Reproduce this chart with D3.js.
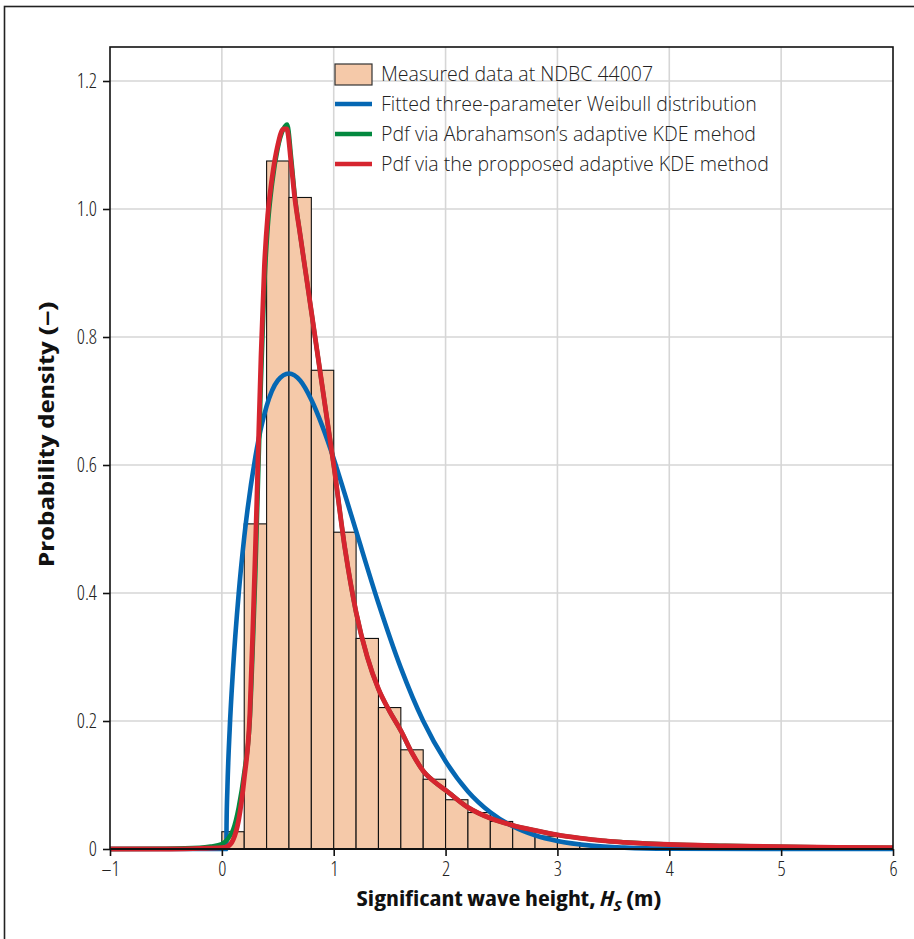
<!DOCTYPE html>
<html><head><meta charset="utf-8">
<script src="https://cdn.jsdelivr.net/npm/d3@7"></script>
<style>
html,body{margin:0;padding:0;background:#fff;}
svg text{font-family:"Open Sans","Noto Sans",sans-serif;}
.cond{font-stretch:condensed;}
.semi{font-stretch:semi-condensed;}
</style></head>
<body>
<svg id="chart" width="914" height="939"></svg>
<script>
// ---- data ----
const binLeft = [0,0.2,0.4,0.6,0.8,1.0,1.2,1.4,1.6,1.8,2.0,2.2,2.4,2.6,2.8,3.0,3.2,3.4,3.6,3.8];
const binWidth = 0.2;
const binDensity = [0.027,0.508,1.075,1.018,0.748,0.495,0.329,0.221,0.155,0.109,0.077,0.057,0.043,0.032,0.020,0.010,0.005,0.003,0.002,0.001];

const weibullX = [-1,0.04,0.042,0.05,0.07,0.1,0.15,0.2,0.3,0.4,0.5,0.6,0.7,0.8,0.9,1.0,1.1,1.2,1.4,1.6,1.8,2.0,2.2,2.4,2.6,2.8,3.0,3.3,3.6,4.0,5.0,6.0];
const weibullY = [0,0,0.037,0.097,0.187,0.281,0.398,0.487,0.613,0.692,0.732,0.743,0.732,0.702,0.660,0.610,0.554,0.497,0.384,0.283,0.200,0.137,0.090,0.0575,0.0356,0.0214,0.0125,0.0053,0.0021,0.0005,0,0];

const abraX = [-1,-0.5,-0.2,-0.1,0,0.05,0.1,0.15,0.2,0.25,0.28,0.3,0.32,0.35,0.38,0.41,0.45,0.5,0.55,0.585,0.62,0.65,0.7,0.75,0.8,0.85,0.9,0.95,1.0,1.1,1.2,1.3,1.4,1.5,1.6,1.7,1.8,1.9,2.0,2.2,2.4,2.6,2.8,3.0,3.2,3.4,3.6,3.8,4.0,4.5,5.0,5.5,6.0];
const abraY = [0,0.0005,0.002,0.004,0.008,0.015,0.03,0.065,0.12,0.2,0.33,0.43,0.55,0.73,0.88,0.97,1.04,1.095,1.125,1.132,1.08,1.025,0.96,0.9,0.84,0.78,0.72,0.66,0.60,0.47,0.37,0.30,0.25,0.215,0.185,0.15,0.122,0.105,0.092,0.065,0.048,0.037,0.029,0.022,0.017,0.013,0.0105,0.0085,0.007,0.005,0.0035,0.0025,0.002];

const propX = [-1,-0.5,-0.2,0,0.05,0.1,0.15,0.2,0.25,0.28,0.3,0.32,0.35,0.38,0.41,0.45,0.5,0.55,0.58,0.62,0.65,0.7,0.75,0.8,0.85,0.9,0.95,1.0,1.1,1.2,1.3,1.4,1.5,1.6,1.7,1.8,1.9,2.0,2.2,2.4,2.6,2.8,3.0,3.2,3.4,3.6,3.8,4.0,4.5,5.0,5.5,6.0];
const propY = [0,0,0.001,0.002,0.004,0.014,0.045,0.11,0.21,0.36,0.47,0.59,0.77,0.91,0.99,1.05,1.10,1.125,1.125,1.07,1.02,0.96,0.9,0.84,0.78,0.72,0.66,0.60,0.47,0.37,0.30,0.25,0.215,0.185,0.15,0.122,0.105,0.092,0.065,0.048,0.037,0.029,0.022,0.017,0.013,0.0105,0.0085,0.007,0.005,0.0035,0.0025,0.002];

const xTicks = [-1,0,1,2,3,4,5,6];
const xTickLabels = ["\u20131","0","1","2","3","4","5","6"];
const yTicks = [0,0.2,0.4,0.6,0.8,1.0,1.2];
const yTickLabels = ["0","0.2","0.4","0.6","0.8","1.0","1.2"];
const legendLabels = ["Measured data at NDBC 44007","Fitted three-parameter Weibull distribution","Pdf via Abrahamson\u2019s adaptive KDE mehod","Pdf via the propposed adaptive KDE method"];
const colors = {bar:"#f5c9a9", weibull:"#0567b3", abra:"#03893f", prop:"#d6252f"};

// ---- layout ----
const svg = d3.select("#chart");
const L = 110, R = 893, T = 47, B = 849;
const x = d3.scaleLinear().domain([-1,6]).range([L,R]);
const y = d3.scaleLinear().domain([0,1.2]).range([B,81]);

// outer border
svg.append("rect").attr("x",4.5).attr("y",6.5).attr("width",1000).attr("height",1000)
  .attr("fill","none").attr("stroke","#222").attr("stroke-width",1.6);

// gridlines
const grid = svg.append("g");
grid.selectAll(".gx").data(xTicks.slice(1,-1)).join("line")
  .attr("x1",d=>x(d)).attr("x2",d=>x(d)).attr("y1",T).attr("y2",B)
  .attr("stroke","#d6d6d6").attr("stroke-width",1.6);
grid.selectAll(".gy").data(yTicks.slice(1)).join("line")
  .attr("x1",L).attr("x2",R).attr("y1",d=>y(d)).attr("y2",d=>y(d))
  .attr("stroke","#d6d6d6").attr("stroke-width",1.6);

// clip
svg.append("clipPath").attr("id","clip").append("rect")
  .attr("x",L).attr("y",T).attr("width",R-L).attr("height",B-T+4);

// bars
svg.append("g").selectAll("rect").data(binLeft).join("rect")
  .attr("x",(d)=>x(d)).attr("width",(d)=>x(d+binWidth)-x(d))
  .attr("y",(d,i)=>y(binDensity[i])).attr("height",(d,i)=>y(0)-y(binDensity[i]))
  .attr("fill",colors.bar).attr("stroke","#111").attr("stroke-width",1.1);

// curves
const line = d3.line().x(d=>x(d[0])).y(d=>y(d[1])).curve(d3.curveMonotoneX);
const curves = svg.append("g").attr("clip-path","url(#clip)");
function drawCurve(xs,ys,col,w){
  curves.append("path").datum(xs.map((v,i)=>[v,ys[i]]))
    .attr("d",line).attr("fill","none").attr("stroke",col).attr("stroke-width",w)
    .attr("stroke-linejoin","round").attr("stroke-linecap","round");
}
drawCurve(weibullX,weibullY,colors.weibull,4.6);
drawCurve(abraX,abraY,colors.abra,4.4);
drawCurve(propX,propY,colors.prop,4.8);

// frame
svg.append("rect").attr("x",L).attr("y",T).attr("width",R-L).attr("height",B-T)
  .attr("fill","none").attr("stroke","#111").attr("stroke-width",1.6);
svg.append("line").attr("x1",L).attr("x2",R).attr("y1",B).attr("y2",B)
  .attr("stroke","#111").attr("stroke-width",2.2);

// axes
const xAxis = d3.axisBottom(x).tickValues(xTicks).tickSize(7).tickPadding(6)
  .tickFormat((d,i)=>xTickLabels[i]);
const gx = svg.append("g").attr("transform",`translate(0,${B})`).call(xAxis);
gx.select(".domain").remove();
gx.selectAll(".tick line").attr("stroke","#111").attr("stroke-width",1.6);
gx.selectAll(".tick text").attr("class","cond").attr("font-size",20).attr("font-weight",300).attr("fill","#222");

const yAxis = d3.axisLeft(y).tickValues(yTicks).tickSize(7).tickPadding(6)
  .tickFormat((d,i)=>yTickLabels[i]);
const gy = svg.append("g").attr("transform",`translate(${L},0)`).call(yAxis);
gy.select(".domain").remove();
gy.selectAll(".tick line").attr("stroke","#111").attr("stroke-width",1.6);
gy.selectAll(".tick text").attr("class","cond").attr("font-size",20).attr("font-weight",300).attr("fill","#222");

// axis titles
const xt = svg.append("text").attr("class","semi").attr("x",509).attr("y",906).attr("text-anchor","middle")
  .attr("font-size",21).attr("font-weight",700).attr("fill","#111")
  .attr("textLength",305).attr("lengthAdjust","spacingAndGlyphs");
xt.append("tspan").text("Significant wave height, ");
xt.append("tspan").attr("font-style","italic").text("H");
xt.append("tspan").attr("font-style","italic").attr("font-size",15).attr("dy",5).text("S");
xt.append("tspan").attr("dy",-5).text(" (m)");

svg.append("text").attr("class","semi").attr("transform","translate(54,434) rotate(-90)").attr("text-anchor","middle")
  .attr("font-size",21).attr("font-weight",700).attr("fill","#111")
  .attr("textLength",266).attr("lengthAdjust","spacingAndGlyphs")
  .text("Probability density (\u2013)");

// legend
const lg = svg.append("g");
const rowY = [74,104,134,164];
lg.append("rect").attr("x",335).attr("y",64).attr("width",37).attr("height",21)
  .attr("fill",colors.bar).attr("stroke","#333").attr("stroke-width",1.2);
[colors.weibull,colors.abra,colors.prop].forEach((c,i)=>{
  lg.append("line").attr("x1",335).attr("x2",372).attr("y1",rowY[i+1]).attr("y2",rowY[i+1])
    .attr("stroke",c).attr("stroke-width",4.5);
});
lg.selectAll("text.lt").data(legendLabels).join("text")
  .attr("x",381).attr("y",(d,i)=>rowY[i]+7)
  .attr("font-size",19.5).attr("font-weight",300).attr("fill","#222").text(d=>d);
</script>
</body></html>
